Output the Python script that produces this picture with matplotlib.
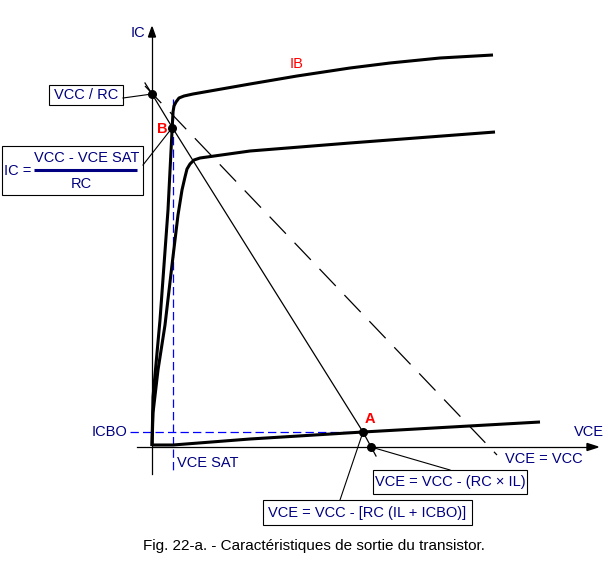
import matplotlib.pyplot as plt
from matplotlib.patches import Rectangle, Polygon

plt.rcParams['font.family'] = ['Liberation Sans', 'DejaVu Sans']
plt.rcParams['lines.scale_dashes'] = False

NAVY = '#000080'

# curves, in picture pixels (x right, y down)
upper_x = [152, 153, 160, 168, 173, 174, 176, 179, 184, 193, 250, 297, 350, 390, 440, 493]
upper_y = [446, 397, 320, 210, 112, 106, 102, 98, 96, 94, 84, 76, 68, 63, 58, 55]
lower_x = [152, 153, 158, 165, 172, 178, 182, 185, 187, 190, 194, 200, 250, 350, 495]
lower_y = [446, 413, 370, 325, 265, 215, 190, 177, 169, 164, 160, 158, 151, 143, 132]
icbo_x = [152, 173, 250, 363, 540]
icbo_y = [445, 445, 439, 432, 422]
load_x = [145, 152, 172, 363, 376]
load_y = [83, 94, 127, 432, 456]
vcc_x = [145, 497]
vcc_y = [86, 455]
dots_x = [152, 172, 363, 371]
dots_y = [94, 128, 432, 447]

fig = plt.figure(figsize=(6.13, 5.63), dpi=100)
ax = fig.add_axes([0, 0, 1, 1])
ax.set_xlim(0, 613)
ax.set_ylim(563, 0)
ax.axis('off')

# axes
ax.plot([152, 152], [474, 36], color='black', lw=0.9)
ax.add_patch(Polygon([[152, 27], [148.5, 37], [155.5, 37]], closed=True, color='black'))
ax.plot([137, 588], [447, 447], color='black', lw=0.9)
ax.add_patch(Polygon([[598, 447], [587, 443.5], [587, 450.5]], closed=True, color='black'))

# guides
ax.plot([173, 173], [99, 474], color='blue', lw=0.9, dashes=(6, 3))
ax.plot([130, 363], [432, 432], color='blue', lw=0.9, dashes=(6, 3))

# characteristic curves
for xs, ys in [(upper_x, upper_y), (lower_x, lower_y), (icbo_x, icbo_y)]:
    ax.plot(xs, ys, color='black', lw=2.2, solid_capstyle='butt', solid_joinstyle='round')

ax.plot(load_x, load_y, color='black', lw=0.9)
ax.plot(vcc_x, vcc_y, color='black', lw=0.9, dashes=(17, 9))
ax.scatter(dots_x, dots_y, s=30, color='black', zorder=5)

# leader lines
ax.plot([123, 152], [98, 94], color='black', lw=0.8)
ax.plot([143, 172], [165, 128], color='black', lw=0.8)
ax.plot([371, 450], [447, 470], color='black', lw=0.8)
ax.plot([340, 363], [500, 432], color='black', lw=0.8)

# boxes
for x0, y0, x1, y1 in [(49, 85, 123, 105), (2, 146, 143, 195),
                       (373, 470, 527, 494), (263, 500, 472, 525)]:
    ax.add_patch(Rectangle((x0, y0), x1 - x0, y1 - y0, fill=False, ec='black', lw=0.8))

fs = 10.5
ax.text(86, 95, 'VCC / RC', color=NAVY, fontsize=fs, ha='center', va='center')
ax.text(4, 171, 'IC =', color=NAVY, fontsize=fs, ha='left', va='center')
ax.text(87, 158, 'VCC - VCE SAT', color=NAVY, fontsize=fs, ha='center', va='center')
ax.plot([34, 137], [170, 170], color=NAVY, lw=2.2, solid_capstyle='butt')
ax.text(81, 184, 'RC', color=NAVY, fontsize=fs, ha='center', va='center')
ax.text(450, 482, 'VCE = VCC - (RC \u00d7 IL)', color=NAVY, fontsize=fs, ha='center', va='center')
ax.text(367, 513, 'VCE = VCC - [RC (IL + ICBO)]', color=NAVY, fontsize=fs, ha='center', va='center')

ax.text(138, 33, 'IC', color=NAVY, fontsize=fs, ha='center', va='center')
ax.text(589, 432, 'VCE', color=NAVY, fontsize=fs, ha='center', va='center')
ax.text(505, 459, 'VCE = VCC', color=NAVY, fontsize=fs, ha='left', va='center')
ax.text(127, 432, 'ICBO', color=NAVY, fontsize=fs, ha='right', va='center')
ax.text(177, 463, 'VCE SAT', color=NAVY, fontsize=fs, ha='left', va='center')

ax.text(297, 64, 'IB', color='red', fontsize=fs, ha='center', va='center')
ax.text(162, 129, 'B', color='red', fontsize=fs, fontweight='bold', ha='center', va='center')
ax.text(370, 419, 'A', color='red', fontsize=fs, fontweight='bold', ha='center', va='center')

ax.text(314, 546, 'Fig. 22-a. - Caract\u00e9ristiques de sortie du transistor.',
        color='black', fontsize=11, ha='center', va='center')

fig.savefig('out.png', dpi=100)
